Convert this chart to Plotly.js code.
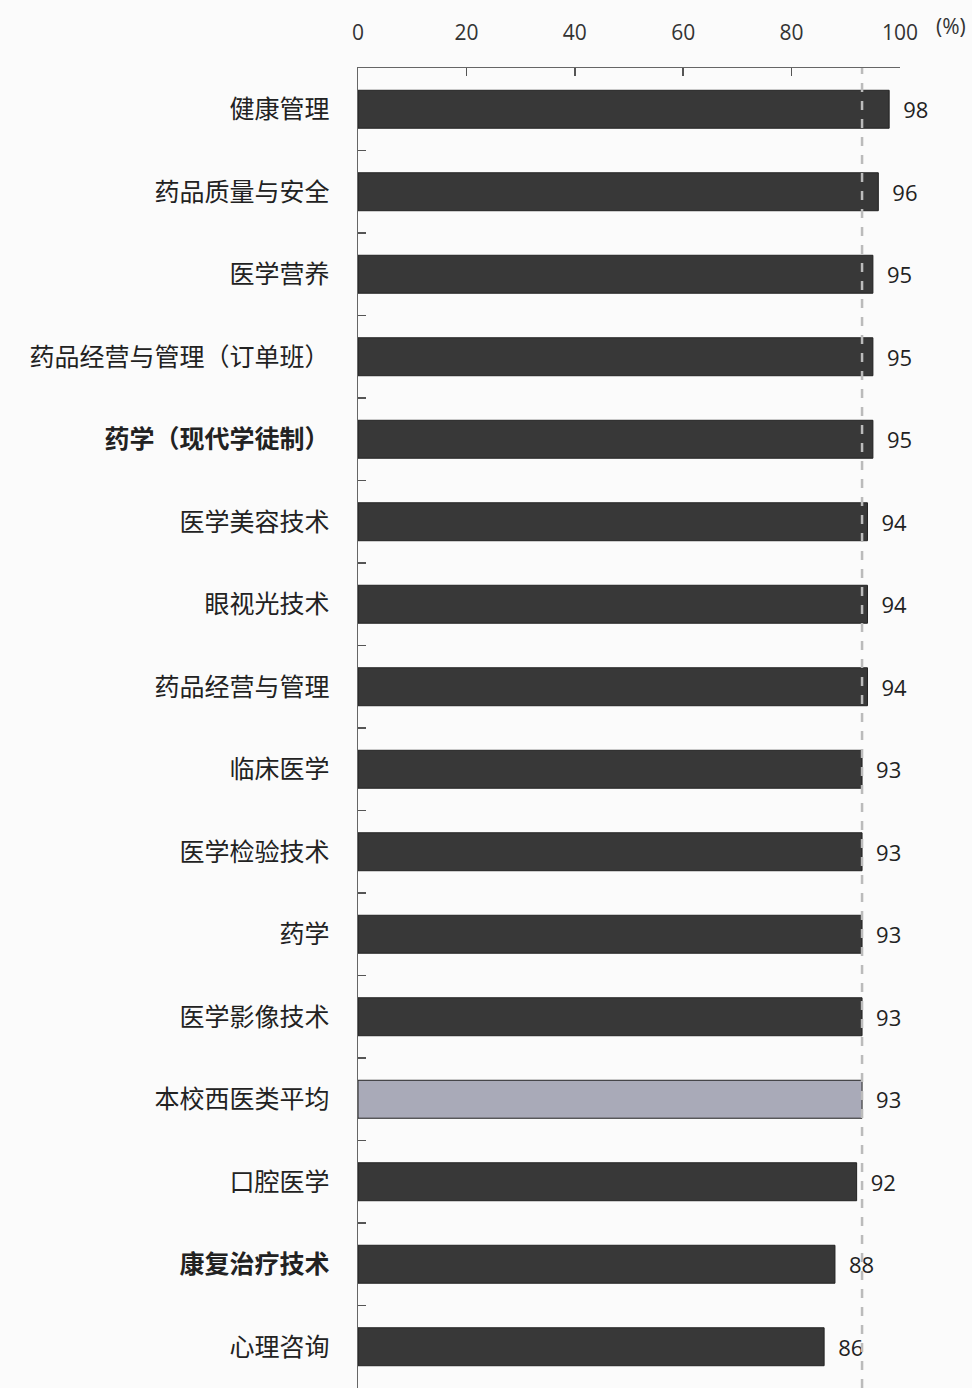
<!DOCTYPE html>
<html>
<head>
<meta charset="utf-8">
<script src="https://cdn.plot.ly/plotly-3.0.1.min.js"></script>
<style>html,body{margin:0;padding:0;background:#fbfbfb;}#chart{width:972px;height:1388px;}</style>
</head>
<body>
<div id="chart"></div>
<script>
const categories = ["健康管理","药品质量与安全","医学营养","药品经营与管理（订单班）","<b>药学（现代学徒制）</b>","医学美容技术","眼视光技术","药品经营与管理","临床医学","医学检验技术","药学","医学影像技术","本校西医类平均","口腔医学","<b>康复治疗技术</b>","心理咨询"];
const values = [98,96,95,95,95,94,94,94,93,93,93,93,93,92,88,86];
const averageValue = 93;
const averageLabel = "本校西医类平均";
const xTickVals = [0,20,40,60,80,100];

const colors = categories.map(c => c === averageLabel ? "#a9aab8" : "#383838");

const trace = {
  type: "bar",
  orientation: "h",
  y: categories,
  x: values,
  marker: {color: colors, line: {color: "#222", width: 1}},
  text: values.map(v => "\u2002" + v),
  textposition: "outside",
  textfont: {size: 22, color: "#222", family: "Open Sans, DejaVu Sans, sans-serif"},
  cliponaxis: false,
  hoverinfo: "none"
};

const layout = {
  width: 972, height: 1388,
  paper_bgcolor: "#fbfbfb", plot_bgcolor: "#fbfbfb",
  margin: {l: 358, r: 72, t: 68, b: 0},
  bargap: 0.54,
  showlegend: false,
  font: {family: "Noto Sans CJK SC, sans-serif", color: "#222"},
  xaxis: {
    side: "top", range: [0, 100], tickvals: xTickVals,
    ticks: "inside", ticklen: 8, tickcolor: "#555", tickwidth: 1.5,
    showline: true, linecolor: "#666", linewidth: 1.5, mirror: false,
    showgrid: false, zeroline: false,
    tickfont: {size: 21, color: "#333", family: "Open Sans, DejaVu Sans, sans-serif"},
    ticklabelstandoff: 18
  },
  yaxis: {
    autorange: "reversed", type: "category",
    tickson: "boundaries", ticks: "inside", ticklen: 8, tickcolor: "#555", tickwidth: 1.5,
    showline: true, linecolor: "#666", linewidth: 1.5,
    showgrid: false, zeroline: false,
    tickfont: {size: 25, color: "#222", family: "Noto Sans CJK SC, sans-serif"},
    ticklabelstandoff: 22
  },
  shapes: [{
    type: "line", xref: "x", yref: "paper", x0: averageValue, x1: averageValue, y0: 0, y1: 1,
    line: {color: "#bbbbbb", width: 2.5, dash: "dash"}, layer: "above"
  }],
  annotations: [{
    text: "(%)", xref: "paper", yref: "paper", x: 1, y: 1, xanchor: "left", yanchor: "bottom",
    xshift: 34, yshift: 26, showarrow: false,
    font: {size: 21, color: "#333", family: "Open Sans, DejaVu Sans, sans-serif"}
  }]
};

Plotly.newPlot("chart", [trace], layout, {displayModeBar: false, staticPlot: true});
</script>
</body>
</html>
